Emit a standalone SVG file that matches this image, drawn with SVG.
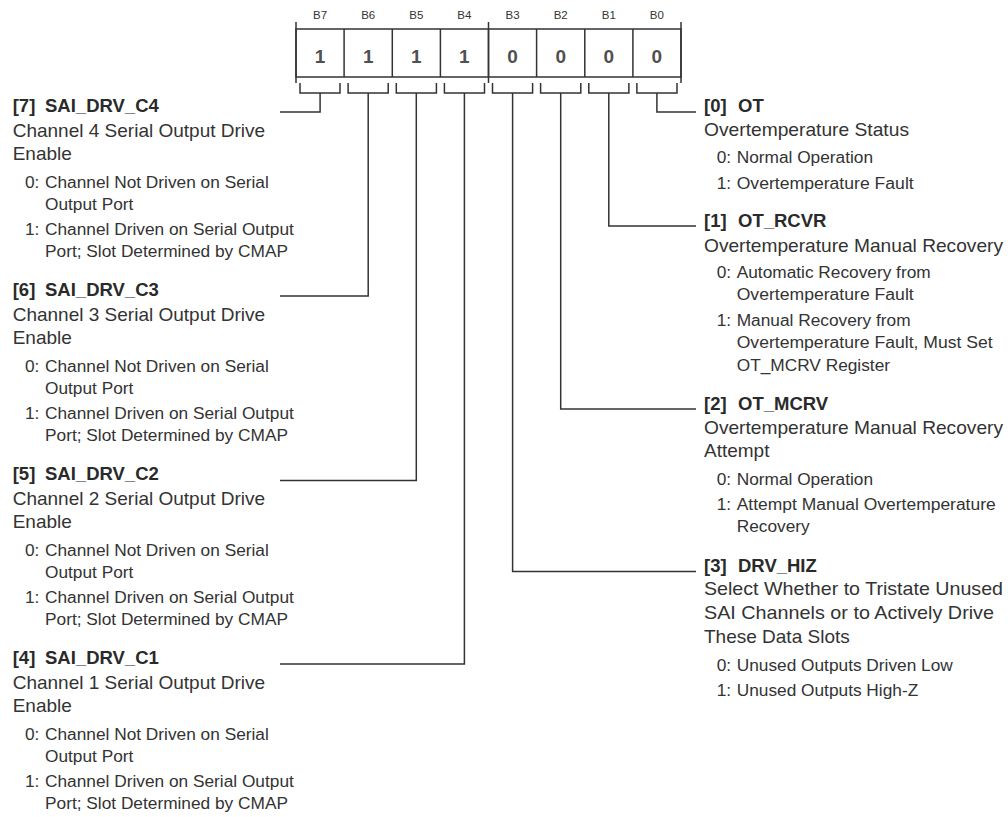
<svg xmlns="http://www.w3.org/2000/svg" width="1008" height="817" viewBox="0 0 1008 817">
<style>
text{font-family:"Liberation Sans",Arial,sans-serif;fill:#333}
.hd{font-size:11.5px;text-anchor:middle}
.val{font-size:19px;font-weight:bold;text-anchor:middle;fill:#505050}
.t{font-size:18.5px;font-weight:bold;fill:#2a2a2a}
.d{font-size:19px}
.s{font-size:17.3px}
.ln{fill:none;stroke:#333;stroke-width:1.5}
</style>
<rect width="1008" height="817" fill="#fff"/>
<g id="register">
<rect class="ln" x="296" y="29" width="385" height="48"/>
<path class="ln" d="M344.1 29V77M392.3 29V77M440.4 29V77M488.5 29V77M536.6 29V77M584.8 29V77M632.9 29V77"/>
<path class="ln" d="M296 22V83M488.5 22V83M681 22V83"/>
<g>
<text class="hd" x="320.1" y="19.3">B7</text>
<text class="hd" x="368.2" y="19.3">B6</text>
<text class="hd" x="416.3" y="19.3">B5</text>
<text class="hd" x="464.4" y="19.3">B4</text>
<text class="hd" x="512.6" y="19.3">B3</text>
<text class="hd" x="560.7" y="19.3">B2</text>
<text class="hd" x="608.8" y="19.3">B1</text>
<text class="hd" x="656.9" y="19.3">B0</text>
</g>
<g>
<text class="val" x="320.1" y="63">1</text>
<text class="val" x="368.2" y="63">1</text>
<text class="val" x="416.3" y="63">1</text>
<text class="val" x="464.4" y="63">1</text>
<text class="val" x="512.6" y="63">0</text>
<text class="val" x="560.7" y="63">0</text>
<text class="val" x="608.8" y="63">0</text>
<text class="val" x="656.9" y="63">0</text>
</g>
</g>
<g id="connectors">
<path class="ln" d="M300 83V93H340V83M348.1 83V93H388.2V83M396.3 83V93H436.4V83M444.4 83V93H484.5V83M492.5 83V93H532.6V83M540.6 83V93H580.8V83M588.8 83V93H628.9V83M636.9 83V93H677V83"/>
<path class="ln" d="M320.1 93V112H280"/>
<path class="ln" d="M368.2 93V296H280"/>
<path class="ln" d="M416.3 93V480.5H280"/>
<path class="ln" d="M464.4 93V664H280"/>
<path class="ln" d="M512.6 93V571.5H696"/>
<path class="ln" d="M560.7 93V409H696"/>
<path class="ln" d="M608.8 93V226H696"/>
<path class="ln" d="M656.9 93V112H696"/>
</g>
<g id="f7">
<text class="t" x="12.7" y="112">[7]</text><text class="t" x="45" y="112">SAI_DRV_C4</text>
<text class="d" x="12.7" y="137">Channel 4 Serial Output Drive</text>
<text class="d" x="12.7" y="160.2">Enable</text>
<text class="s" x="25" y="188">0:</text><text class="s" x="45" y="188">Channel Not Driven on Serial</text>
<text class="s" x="45" y="209.8">Output Port</text>
<text class="s" x="25" y="234.5">1:</text><text class="s" x="45" y="234.5">Channel Driven on Serial Output</text>
<text class="s" x="45" y="256.5">Port; Slot Determined by CMAP</text>
</g>
<g id="f6">
<text class="t" x="12.7" y="296">[6]</text><text class="t" x="45" y="296">SAI_DRV_C3</text>
<text class="d" x="12.7" y="321">Channel 3 Serial Output Drive</text>
<text class="d" x="12.7" y="344.2">Enable</text>
<text class="s" x="25" y="372">0:</text><text class="s" x="45" y="372">Channel Not Driven on Serial</text>
<text class="s" x="45" y="393.8">Output Port</text>
<text class="s" x="25" y="418.5">1:</text><text class="s" x="45" y="418.5">Channel Driven on Serial Output</text>
<text class="s" x="45" y="440.5">Port; Slot Determined by CMAP</text>
</g>
<g id="f5">
<text class="t" x="12.7" y="480">[5]</text><text class="t" x="45" y="480">SAI_DRV_C2</text>
<text class="d" x="12.7" y="505">Channel 2 Serial Output Drive</text>
<text class="d" x="12.7" y="528.2">Enable</text>
<text class="s" x="25" y="556">0:</text><text class="s" x="45" y="556">Channel Not Driven on Serial</text>
<text class="s" x="45" y="577.8">Output Port</text>
<text class="s" x="25" y="602.5">1:</text><text class="s" x="45" y="602.5">Channel Driven on Serial Output</text>
<text class="s" x="45" y="624.5">Port; Slot Determined by CMAP</text>
</g>
<g id="f4">
<text class="t" x="12.7" y="664">[4]</text><text class="t" x="45" y="664">SAI_DRV_C1</text>
<text class="d" x="12.7" y="689">Channel 1 Serial Output Drive</text>
<text class="d" x="12.7" y="712.2">Enable</text>
<text class="s" x="25" y="740">0:</text><text class="s" x="45" y="740">Channel Not Driven on Serial</text>
<text class="s" x="45" y="761.8">Output Port</text>
<text class="s" x="25" y="786.5">1:</text><text class="s" x="45" y="786.5">Channel Driven on Serial Output</text>
<text class="s" x="45" y="808.5">Port; Slot Determined by CMAP</text>
</g>
<g id="f0">
<text class="t" x="704" y="112">[0]</text><text class="t" x="738" y="112">OT</text>
<text class="d" x="704" y="136" textLength="205" lengthAdjust="spacingAndGlyphs">Overtemperature Status</text>
<text class="s" x="716.7" y="163">0:</text><text class="s" x="736.7" y="163">Normal Operation</text>
<text class="s" x="716.7" y="189">1:</text><text class="s" x="736.7" y="189" textLength="177" lengthAdjust="spacingAndGlyphs">Overtemperature Fault</text>
</g>
<g id="f1">
<text class="t" x="704" y="227">[1]</text><text class="t" x="738" y="227">OT_RCVR</text>
<text class="d" x="704" y="252" textLength="299" lengthAdjust="spacingAndGlyphs">Overtemperature Manual Recovery</text>
<text class="s" x="716.7" y="278">0:</text><text class="s" x="736.7" y="278">Automatic Recovery from</text>
<text class="s" x="736.7" y="300" textLength="177" lengthAdjust="spacingAndGlyphs">Overtemperature Fault</text>
<text class="s" x="716.7" y="326">1:</text><text class="s" x="736.7" y="326">Manual Recovery from</text>
<text class="s" x="736.7" y="348.3" textLength="256" lengthAdjust="spacingAndGlyphs">Overtemperature Fault, Must Set</text>
<text class="s" x="736.7" y="370.7">OT_MCRV Register</text>
</g>
<g id="f2">
<text class="t" x="704" y="409.5">[2]</text><text class="t" x="738" y="409.5">OT_MCRV</text>
<text class="d" x="704" y="433.5" textLength="299" lengthAdjust="spacingAndGlyphs">Overtemperature Manual Recovery</text>
<text class="d" x="704" y="457">Attempt</text>
<text class="s" x="716.7" y="485">0:</text><text class="s" x="736.7" y="485">Normal Operation</text>
<text class="s" x="716.7" y="510">1:</text><text class="s" x="736.7" y="510" textLength="259" lengthAdjust="spacingAndGlyphs">Attempt Manual Overtemperature</text>
<text class="s" x="736.7" y="532">Recovery</text>
</g>
<g id="f3">
<text class="t" x="704" y="571.5">[3]</text><text class="t" x="738" y="571.5">DRV_HIZ</text>
<text class="d" x="704" y="595" textLength="299" lengthAdjust="spacingAndGlyphs">Select Whether to Tristate Unused</text>
<text class="d" x="704" y="618.5" textLength="290" lengthAdjust="spacingAndGlyphs">SAI Channels or to Actively Drive</text>
<text class="d" x="704" y="642.5">These Data Slots</text>
<text class="s" x="716.7" y="670.5">0:</text><text class="s" x="736.7" y="670.5">Unused Outputs Driven Low</text>
<text class="s" x="716.7" y="696">1:</text><text class="s" x="736.7" y="696">Unused Outputs High-Z</text>
</g>
</svg>
